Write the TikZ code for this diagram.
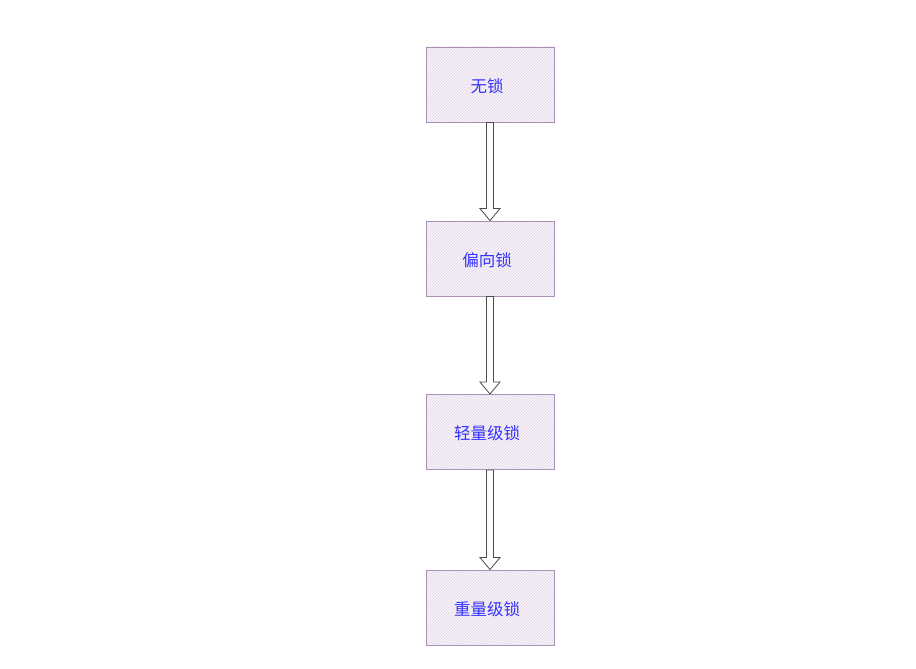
\documentclass[tikz,border=0pt]{standalone}
\usepackage{fontspec}
\newfontfamily\cjk{Noto Sans CJK SC}
\usetikzlibrary{calc}
\usetikzlibrary{patterns}

\definecolor{lockfill}{HTML}{E1D5E7}
\definecolor{lockdraw}{HTML}{9673A6}
\definecolor{locktext}{HTML}{3333FF}

\tikzset{
  lock/.style={rectangle, draw=lockdraw!80, line width=0.9pt, inner sep=0pt,
    minimum width=128pt, minimum height=75pt, text=locktext,
    font=\cjk\fontsize{16.5}{19}\selectfont,
    preaction={fill=lockfill!25},
    preaction={pattern=north east lines, pattern color=lockfill},
    text depth=0pt, yshift=0pt},
  bigarrow/.style={draw=black!70, fill=white, line width=0.8pt}
}

\begin{document}
\begin{tikzpicture}[x=1pt, y=-1pt]
      \useasboundingbox (0,0) rectangle (916,669);

      \node[lock] (wusuo) at (490, 84.5) {\raisebox{-2pt}{无锁\hspace{6pt}}};
      \node[lock] (pianxiang) at (490, 258.5) {\raisebox{-2pt}{偏向锁\hspace{6pt}}};
      \node[lock] (qingliang) at (490, 432) {\raisebox{-2pt}{轻量级锁\hspace{6pt}}};
      \node[lock] (zhongliang) at (490, 607.5) {\raisebox{-2pt}{重量级锁\hspace{6pt}}};

      % hollow block arrows between the states
      \foreach \a/\b in {wusuo/pianxiang, pianxiang/qingliang, qingliang/zhongliang} {
        \draw[bigarrow] ($(\a.south)+(-3.5,0)$) -- ($(\b.north)+(-3.5,-12)$)
          -- ($(\b.north)+(-10,-12)$) -- (\b.north) -- ($(\b.north)+(10,-12)$)
          -- ($(\b.north)+(3.5,-12)$) -- ($(\a.south)+(3.5,0)$) -- cycle;
      }
    \end{tikzpicture}
\end{document}
